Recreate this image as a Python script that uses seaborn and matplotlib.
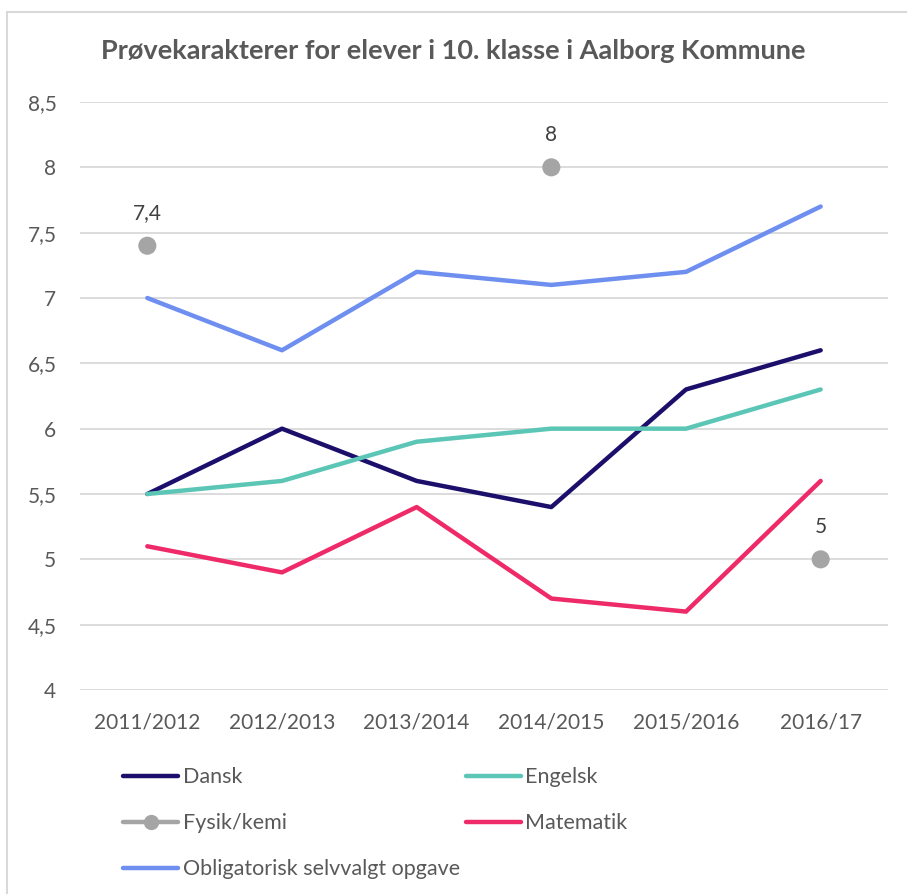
import matplotlib
matplotlib.use("Agg")
import pandas as pd
import numpy as np
import matplotlib.pyplot as plt
import seaborn as sns
from matplotlib.lines import Line2D
from matplotlib.ticker import FuncFormatter

## data
years = ["2011/2012", "2012/2013", "2013/2014", "2014/2015", "2015/2016", "2016/17"]
dansk = [5.5, 6.0, 5.6, 5.4, 6.3, 6.6]
engelsk = [5.5, 5.6, 5.9, 6.0, 6.0, 6.3]
fysik_kemi = [7.4, np.nan, np.nan, 8.0, np.nan, 5.0]
matematik = [5.1, 4.9, 5.4, 4.7, 4.6, 5.6]
obligatorisk = [7.0, 6.6, 7.2, 7.1, 7.2, 7.7]

series = {
    "Dansk": dansk,
    "Engelsk": engelsk,
    "Matematik": matematik,
    "Obligatorisk selvvalgt opgave": obligatorisk,
}
colors = {
    "Dansk": "#1c0f6b",
    "Engelsk": "#5cc6b6",
    "Fysik/kemi": "#a5a5a5",
    "Matematik": "#ee2a68",
    "Obligatorisk selvvalgt opgave": "#6e8ff0",
}

rows = []
for name, vals in series.items():
    for yr, v in zip(years, vals):
        rows.append({"Aar": yr, "Karakter": v, "Fag": name})
df = pd.DataFrame(rows)
df_fk = pd.DataFrame({"Aar": years, "Karakter": fysik_kemi}).dropna()

sns.set_theme(style="white")
plt.rcParams["font.family"] = ["Lato", "DejaVu Sans"]
text_col = "#595959"
fs = 15

fig = plt.figure(figsize=(9.07, 8.94), dpi=100)
ax = fig.add_axes([80 / 907, 1 - 690 / 894, 808 / 907, 588 / 894])

# draw order like Excel: later series on top
for name in ["Dansk", "Engelsk", "Matematik", "Obligatorisk selvvalgt opgave"]:
    sub = df[df["Fag"] == name]
    sns.lineplot(data=sub, x="Aar", y="Karakter", color=colors[name], lw=3.2,
                 sort=False, ax=ax, solid_capstyle="round", solid_joinstyle="round",
                 legend=False)

sns.scatterplot(data=df_fk, x="Aar", y="Karakter", color=colors["Fysik/kemi"],
                s=170, edgecolor="none", ax=ax, legend=False, zorder=5)

# data labels for Fysik/kemi
for yr, v in zip(df_fk["Aar"], df_fk["Karakter"]):
    lab = f"{v:g}".replace(".", ",")
    ax.annotate(lab, (years.index(yr), v), xytext=(0, 16), textcoords="offset points",
                ha="center", va="bottom", fontsize=fs, color="#404040")

ax.set_xlim(-0.5, len(years) - 0.5)
ax.set_ylim(4, 8.5)
ax.set_yticks(np.arange(4, 8.51, 0.5))
ax.yaxis.set_major_formatter(FuncFormatter(lambda v, p: f"{v:g}".replace(".", ",")))
ax.grid(axis="y", color="#d9d9d9", lw=1.3)
ax.grid(axis="x", visible=False)
for s in ax.spines.values():
    s.set_visible(False)
ax.tick_params(axis="both", length=0, labelsize=fs, labelcolor=text_col)
ax.tick_params(axis="y", pad=17)
ax.tick_params(axis="x", pad=16)
ax.set_xlabel("")
ax.set_ylabel("")

fig.suptitle("Prøvekarakterer for elever i 10. klasse i Aalborg Kommune",
             x=0.5, y=1 - 51 / 894, va="center", fontsize=19.5,
             fontweight="bold", color=text_col)

# legend, 2 columns
order = ["Dansk", "Fysik/kemi", "Obligatorisk selvvalgt opgave", "Engelsk", "Matematik"]
handles = []
for name in order:
    if name == "Fysik/kemi":
        h = Line2D([], [], color=colors[name], lw=3.2, marker="o", markersize=10,
                   solid_capstyle="round")
    else:
        h = Line2D([], [], color=colors[name], lw=3.2, solid_capstyle="round")
    handles.append(h)
lfs = 15.5
leg = fig.legend(handles, order, ncol=2, loc="upper left",
                 bbox_to_anchor=(104 / 907, 1 - 748 / 894), frameon=False,
                 fontsize=lfs, handlelength=2.55, handletextpad=0.2,
                 labelspacing=1.2, columnspacing=0.3)
for t in leg.get_texts():
    t.set_color(text_col)

# light outer chart border
fig.add_artist(Line2D([7 / 907, 7 / 907], [0, 1 - 12 / 894], color="#d9d9d9", lw=1.5,
                      transform=fig.transFigure))
fig.add_artist(Line2D([7 / 907, 1], [1 - 12 / 894, 1 - 12 / 894], color="#d9d9d9", lw=1.5,
                      transform=fig.transFigure))

plt.savefig("out.png", dpi=100)
